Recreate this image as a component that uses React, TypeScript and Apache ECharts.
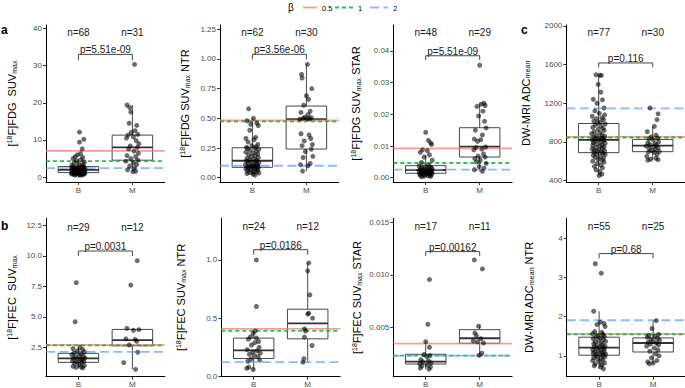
import React, { useEffect, useRef } from 'react';
import * as echarts from 'echarts';

// [jitter offset, value] for each lesion; box = [low whisker, Q1, median, Q3, high whisker]
type Pt = [number, number];
type Box = [number, number, number, number, number];

const groups = ['B', 'M'];
const betaLevels = ['0.5', '1', '2'];

// ---- [18F]FDG SUVmax ----
const fdgSuvB: Pt[] = [
  [0.02, 12.1], [0.1, 10.2], [0.02, 9.4], [0.07, 7.6], [0.04, 6.3], [-0.02, 6.0], [-0.06, 5.5], [0.08, 5.3], [-0.1, 5.0],
  [0.05, 4.7], [-0.04, 4.4], [0.11, 4.1], [-0.08, 3.8], [0.01, 3.6], [0.09, 3.4], [-0.12, 3.2], [0.06, 3.0],
  [-0.03, 2.82], [0.1, 2.74], [-0.09, 2.7], [0.04, 2.61], [-0.13, 2.57], [0.07, 2.49], [-0.01, 2.44], [0.12, 2.38],
  [-0.06, 2.33], [0.03, 2.27], [-0.11, 2.22], [0.08, 2.18], [-0.04, 2.13], [0.0, 2.09], [0.11, 2.04], [-0.08, 2.0], [0.05, 1.97],
  [-0.02, 1.95], [0.09, 1.9], [-0.12, 1.86], [0.03, 1.81], [-0.06, 1.77], [0.12, 1.71], [-0.03, 1.66], [0.06, 1.62],
  [-0.1, 1.57], [0.01, 1.52], [0.1, 1.48], [-0.07, 1.43], [0.04, 1.38], [-0.12, 1.33], [0.07, 1.29], [-0.01, 1.26], [0.11, 1.24],
  [-0.05, 1.22], [0.02, 1.18], [-0.11, 1.14], [0.08, 1.1], [-0.02, 1.05], [0.12, 1.01], [-0.08, 0.97], [0.04, 0.92],
  [-0.13, 0.88], [0.06, 0.84], [-0.04, 0.8], [0.1, 0.75], [-0.09, 0.7], [0.01, 0.66], [0.07, 0.6], [-0.06, 0.55], [0.03, 0.5],
];
const fdgSuvM: Pt[] = [
  [0.04, 30.3], [-0.1, 19.4], [-0.05, 18.7], [-0.03, 17.5], [-0.06, 14.5], [0.08, 13.9], [0.05, 12.5], [-0.02, 12.0],
  [0.1, 11.5], [-0.08, 11.3], [0.02, 10.8], [-0.11, 10.5], [0.07, 9.8], [0.12, 9.0], [-0.04, 8.4], [0.09, 8.0],
  [-0.07, 7.6], [0.03, 7.0], [0.11, 6.4], [-0.1, 5.8], [0.06, 5.5], [-0.03, 5.0], [0.1, 4.6], [-0.12, 4.3],
  [0.02, 3.9], [0.08, 3.4], [-0.05, 3.0], [0.04, 2.5], [-0.09, 2.0], [0.06, 1.6], [0.01, 1.5],
];
const fdgSuvBoxB: Box = [0.5, 1.23, 1.96, 2.84, 5.0];
const fdgSuvBoxM: Box = [1.5, 4.56, 8.0, 11.3, 19.4];
const fdgSuvBeta = [7.05, 4.29, 2.41];
const fdgSuvTicks = ['0', '10', '20', '30', '40'];

// ---- [18F]FDG SUVmax NTR ----
const fdgNtrB: Pt[] = [
  [-0.07, 0.58], [0.02, 0.5], [-0.1, 0.48], [0.08, 0.46], [-0.03, 0.45], [0.11, 0.44], [-0.05, 0.4], [0.06, 0.34],
  [-0.12, 0.33], [0.03, 0.32], [-0.08, 0.3], [0.1, 0.28], [-0.01, 0.27], [0.07, 0.26], [-0.11, 0.255],
  [0.04, 0.25], [-0.09, 0.246], [0.12, 0.238], [-0.04, 0.231], [0.07, 0.222], [-0.12, 0.215], [0.01, 0.207], [0.1, 0.2],
  [-0.07, 0.193], [0.05, 0.186], [-0.02, 0.178], [0.11, 0.17], [-0.1, 0.163], [0.03, 0.157], [-0.05, 0.15], [0.08, 0.145],
  [-0.11, 0.141], [0.06, 0.137], [-0.03, 0.131], [0.12, 0.126], [-0.08, 0.12], [0.02, 0.116], [0.09, 0.112], [-0.13, 0.108],
  [0.05, 0.104], [-0.01, 0.1], [0.1, 0.097], [-0.06, 0.095], [0.03, 0.093], [-0.1, 0.091], [0.07, 0.089], [-0.02, 0.088],
  [0.11, 0.085], [-0.07, 0.082], [0.04, 0.078], [-0.12, 0.074], [0.08, 0.07], [-0.03, 0.066], [0.1, 0.061], [-0.09, 0.057],
  [0.02, 0.052], [0.06, 0.048], [-0.05, 0.044], [0.12, 0.04], [-0.1, 0.035], [0.01, 0.03], [0.05, 0.022],
];
const fdgNtrM: Pt[] = [
  [0.02, 0.955], [-0.09, 0.87], [-0.08, 0.84], [0.1, 0.75], [0.0, 0.69], [0.04, 0.66], [-0.05, 0.61], [0.07, 0.56],
  [-0.1, 0.55], [0.03, 0.53], [-0.03, 0.51], [0.09, 0.505], [-0.06, 0.5], [0.01, 0.498], [0.06, 0.495], [-0.12, 0.493],
  [-0.1, 0.37], [0.05, 0.36], [0.08, 0.33], [-0.04, 0.31], [0.11, 0.28], [-0.08, 0.27], [0.09, 0.24], [-0.02, 0.22],
  [0.12, 0.18], [-0.06, 0.17], [0.07, 0.12], [-0.11, 0.11], [0.03, 0.1], [-0.07, 0.056],
];
const fdgNtrBoxB: Box = [0.022, 0.0875, 0.143, 0.2525, 0.5];
const fdgNtrBoxM: Box = [0.056, 0.2415, 0.494, 0.6035, 0.955];
const fdgNtrBeta = [0.482, 0.475, 0.101];
const fdgNtrTicks = ['0.00', '0.25', '0.50', '0.75', '1.00', '1.25'];

// ---- [18F]FDG SUVmax STAR ----
const fdgStarB: Pt[] = [
  [0.0, 0.0143], [0.05, 0.0118], [0.09, 0.011], [0.11, 0.0105], [-0.06, 0.0088], [0.03, 0.0085], [-0.1, 0.008], [0.07, 0.0072],
  [-0.03, 0.0065], [0.12, 0.0055], [-0.08, 0.0048], [0.04, 0.0041],
  [-0.12, 0.0037], [0.08, 0.0035], [-0.02, 0.0034], [0.1, 0.0032], [-0.07, 0.0031], [0.03, 0.0029], [0.12, 0.0028], [-0.1, 0.0027],
  [0.05, 0.0026], [-0.04, 0.0025], [0.09, 0.00248], [-0.11, 0.00244],
  [0.01, 0.0024], [-0.06, 0.0022], [0.11, 0.0021], [-0.09, 0.002], [0.06, 0.0019], [-0.01, 0.0018], [0.1, 0.00175], [-0.12, 0.0017],
  [0.04, 0.0016], [-0.05, 0.0015], [0.08, 0.00145], [-0.03, 0.0014],
  [0.12, 0.00135], [-0.08, 0.0013], [0.02, 0.0012], [-0.11, 0.0011], [0.07, 0.001], [-0.04, 0.0009], [0.1, 0.0008], [-0.1, 0.0007],
  [0.05, 0.0006], [-0.02, 0.0005], [0.09, 0.0004], [-0.07, 0.0003],
];
const fdgStarM: Pt[] = [
  [0.0, 0.0355], [0.08, 0.0235], [0.03, 0.0232], [0.1, 0.0228], [-0.05, 0.0225], [0.06, 0.021], [-0.02, 0.0195], [0.09, 0.0178],
  [0.12, 0.0157], [-0.08, 0.015], [0.05, 0.0135], [-0.1, 0.0122], [0.02, 0.012], [-0.04, 0.0115], [0.11, 0.0097], [-0.07, 0.0095],
  [0.04, 0.009], [-0.11, 0.0088], [0.07, 0.0075], [-0.03, 0.0068], [0.1, 0.0065], [-0.09, 0.006], [0.01, 0.0055], [-0.06, 0.005],
  [0.12, 0.0045], [-0.01, 0.0035], [0.08, 0.003], [-0.1, 0.0025], [0.05, 0.002],
];
const fdgStarBoxB: Box = [0.0003, 0.00139, 0.00243, 0.00379, 0.0072];
const fdgStarBoxM: Box = [0.002, 0.00653, 0.00978, 0.01577, 0.0235];
const fdgStarBeta = [0.00927, 0.00464, 0.00252];
const fdgStarTicks = ['0.00', '0.01', '0.02', '0.03', '0.04'];

// ---- DW-MRI ADCmean ----
const adcB: Pt[] = [
  [-0.05, 1495], [0.02, 1490], [0.05, 1488], [-0.01, 1395], [0.04, 1315], [-0.1, 1240], [0.07, 1235], [-0.03, 1200],
  [0.1, 1150], [-0.07, 1120], [0.01, 1095], [0.11, 1080], [-0.12, 1065], [0.06, 1050], [-0.04, 1040], [0.09, 1030],
  [-0.09, 1015], [0.03, 1005], [-0.02, 995],
  [0.12, 985], [-0.06, 975], [0.04, 962], [-0.11, 950], [0.08, 940], [-0.01, 930], [0.1, 918], [-0.08, 905], [0.02, 895],
  [-0.13, 885], [0.06, 872], [-0.04, 865], [0.11, 858], [-0.09, 850], [0.03, 843], [0.07, 836], [-0.05, 830], [0.1, 826], [-0.12, 823],
  [0.0, 821],
  [0.09, 815], [-0.07, 808], [0.04, 800], [-0.1, 792], [0.12, 785], [-0.03, 778], [0.06, 770], [-0.11, 762], [0.02, 755],
  [0.1, 748], [-0.05, 740], [0.07, 733], [-0.12, 725], [0.01, 718], [-0.08, 712], [0.11, 705], [-0.02, 700], [0.05, 695], [-0.09, 690],
  [0.08, 682], [-0.04, 675], [0.12, 668], [-0.1, 660], [0.03, 650], [-0.06, 640], [0.09, 630], [-0.01, 620], [0.06, 610],
  [-0.11, 600], [0.1, 590], [-0.03, 575], [0.04, 560], [-0.08, 545], [0.07, 530], [-0.05, 510], [0.02, 490], [0.06, 465], [0.01, 451],
];
const adcM: Pt[] = [
  [-0.05, 1150], [0.1, 1090], [0.08, 1030], [0.03, 960], [-0.1, 905], [0.06, 870], [-0.03, 850], [0.09, 840], [-0.07, 830],
  [0.01, 820], [0.11, 800], [-0.09, 790], [0.04, 780], [-0.05, 770], [0.07, 765], [-0.12, 755], [0.02, 750], [0.1, 740],
  [-0.06, 730], [0.05, 720], [-0.02, 710], [0.12, 700], [-0.08, 695], [0.03, 690], [0.08, 670], [-0.11, 650], [0.06, 630],
  [-0.04, 620], [0.1, 615], [-0.09, 610],
];
const adcBoxB: Box = [451, 688, 821, 990, 1490];
const adcBoxM: Box = [610, 698, 760, 825, 960];
const adcBeta = [852, 845, 1147];
const adcTicks = ['400', '800', '1200', '1600', '2000'];

// ---- [18F]FEC SUVmax ----
const fecSuvB: Pt[] = [
  [-0.04, 7.8], [-0.06, 4.6], [0.03, 2.5], [-0.1, 2.4], [0.08, 2.32], [-0.02, 2.22], [0.11, 2.12], [-0.08, 2.03], [0.05, 1.96],
  [-0.12, 1.9], [0.01, 1.82], [0.09, 1.76], [-0.05, 1.7], [0.12, 1.63], [-0.09, 1.6], [0.04, 1.55], [-0.01, 1.5], [0.07, 1.45],
  [-0.11, 1.4], [0.1, 1.35], [-0.03, 1.3], [0.06, 1.26], [-0.07, 1.2], [0.02, 1.1], [0.11, 1.02], [-0.1, 0.95], [0.05, 0.9],
  [-0.04, 0.86], [0.08, 0.82],
];
const fecSuvM: Pt[] = [
  [0.09, 9.6], [-0.03, 7.6], [-0.1, 4.05], [0.12, 3.95], [0.02, 3.9], [-0.12, 3.2], [0.05, 3.15], [0.08, 3.0], [-0.06, 2.7],
  [0.1, 2.1], [-0.16, 1.25], [0.06, 0.7],
];
const fecSuvBoxB: Box = [0.82, 1.275, 1.6, 2.01, 2.5];
const fecSuvBoxM: Box = [0.7, 2.63, 3.1, 3.97, 4.05];
const fecSuvBeta = [2.71, 2.66, 2.14];
const fecSuvTicks = ['2.5', '5.0', '7.5', '10.0', '12.5'];

// ---- [18F]FEC SUVmax NTR ----
const fecNtrB: Pt[] = [
  [0.05, 1.0], [0.05, 0.6], [0.03, 0.39], [-0.01, 0.37], [-0.06, 0.34], [0.05, 0.33], [-0.1, 0.32], [0.09, 0.3],
  [0.02, 0.29], [-0.04, 0.27], [0.1, 0.25], [-0.12, 0.23], [0.06, 0.22], [-0.02, 0.21], [0.12, 0.2], [-0.08, 0.19],
  [0.01, 0.18], [0.08, 0.17], [-0.05, 0.15], [0.11, 0.14], [-0.11, 0.13], [-0.09, 0.08], [-0.13, 0.07], [-0.01, 0.06],
];
const fecNtrM: Pt[] = [
  [0.02, 0.974], [0.0, 0.906], [0.04, 0.7], [0.02, 0.543], [0.0, 0.535], [0.09, 0.5], [-0.06, 0.409], [-0.04, 0.39],
  [-0.06, 0.338], [0.08, 0.266], [-0.07, 0.152], [-0.09, 0.123],
];
const fecNtrBoxB: Box = [0.06, 0.154, 0.223, 0.329, 0.39];
const fecNtrBoxM: Box = [0.123, 0.323, 0.455, 0.577, 0.974];
const fecNtrBeta = [0.409, 0.391, 0.123];
const fecNtrTicks = ['0.0', '0.5', '1.0'];

// ---- [18F]FEC SUVmax STAR ----
const fecStarB: Pt[] = [
  [0.07, 0.00955], [0.04, 0.00529], [0.0, 0.00362], [0.07, 0.00309], [-0.03, 0.0024], [0.08, 0.0023], [0.02, 0.0022],
  [-0.09, 0.0019], [0.05, 0.0018], [-0.05, 0.0017], [0.1, 0.0016], [-0.11, 0.0015], [0.03, 0.0014], [-0.07, 0.0013],
  [0.09, 0.0012], [-0.1, 0.0011], [0.06, 0.001],
];
const fecStarM: Pt[] = [
  [-0.1, 0.01143], [0.05, 0.01057], [-0.02, 0.0051], [-0.09, 0.00446], [-0.06, 0.0042], [0.02, 0.0039], [-0.12, 0.0037],
  [-0.04, 0.0036], [0.07, 0.0035], [0.04, 0.00252], [-0.01, 0.00233],
];
const fecStarBoxB: Box = [0.001, 0.00149, 0.00171, 0.00242, 0.00362];
const fecStarBoxM: Box = [0.00233, 0.00347, 0.00395, 0.00477, 0.0051];
const fecStarBeta = [0.00343, 0.0023, 0.00229];
const fecStarTicks = ['0.005', '0.010', '0.015'];

// ---- DW-MRI ADCmean NTR ----
const adcNtrB: Pt[] = [
  [-0.07, 3.35], [0.04, 3.11], [-0.1, 2.14], [0.02, 1.86], [0.09, 1.83], [-0.04, 1.8], [0.11, 1.75], [-0.08, 1.62],
  [0.05, 1.6], [-0.12, 1.57], [0.07, 1.55], [-0.02, 1.52], [0.1, 1.5], [-0.06, 1.48],
  [0.03, 1.46], [-0.11, 1.44], [0.08, 1.42], [-0.01, 1.4], [0.12, 1.37], [-0.07, 1.35], [0.04, 1.33], [-0.1, 1.31],
  [0.06, 1.29], [-0.03, 1.27], [0.11, 1.25], [-0.09, 1.23], [0.01, 1.22],
  [0.07, 1.21],
  [-0.05, 1.2], [0.1, 1.18], [-0.12, 1.16], [0.03, 1.14], [-0.02, 1.13], [0.09, 1.11], [-0.08, 1.1], [0.05, 1.08],
  [-0.11, 1.07], [0.12, 1.05], [-0.04, 1.04], [0.02, 1.03], [0.08, 1.02],
  [-0.06, 1.0], [0.11, 0.98], [-0.1, 0.96], [0.04, 0.94], [-0.03, 0.92], [0.07, 0.9], [-0.12, 0.88], [0.01, 0.85],
  [0.1, 0.82], [-0.07, 0.8], [0.05, 0.77], [-0.09, 0.75], [0.03, 0.72], [0.08, 0.67],
];
const adcNtrM: Pt[] = [
  [0.06, 1.9], [-0.02, 1.7], [0.1, 1.55], [-0.08, 1.52], [0.03, 1.5], [-0.11, 1.48], [0.08, 1.45], [-0.04, 1.42],
  [0.12, 1.4], [0.0, 1.38], [-0.09, 1.35], [0.06, 1.33], [-0.05, 1.3], [0.1, 1.28], [-0.12, 1.25], [0.02, 1.2],
  [0.09, 1.15], [-0.06, 1.12], [0.05, 1.05], [0.11, 1.0], [-0.03, 0.95], [0.07, 0.88], [-0.1, 0.85], [0.0, 0.82], [-0.07, 0.8],
];
const adcNtrBoxB: Box = [0.67, 1.018, 1.212, 1.477, 2.14];
const adcNtrBoxM: Box = [0.8, 1.1, 1.33, 1.46, 1.9];
const adcNtrBeta = [1.56, 1.55, 1.91];
const adcNtrTicks = ['1', '2', '3', '4'];

const pValues = ['5.51e-09', '3.56e-06', '5.51e-09', '0.116', '0.0031', '0.0186', '0.00162', '0.68'];

// ---- styling ----
const FONT = '"Liberation Sans", Arial, Helvetica, sans-serif';
const X_MIN = 0.4;
const X_MAX = 2.6;
const betaColors = ['rgba(248,118,109,0.72)', 'rgba(0,186,56,0.85)', 'rgba(97,156,255,0.72)'];
const betaDash: (number[] | null)[] = [null, [4, 3], [9, 4.5]];
const INK = '#1a1a1a';
const TICK_TEXT = '#4d4d4d';
const TICK_FONT = 8;

interface Panel {
  grid: { left: number; top: number; width: number; height: number };
  yMin: number; yMax: number; ticks: string[];
  name: string; nameGap: number;
  b: Pt[]; m: Pt[]; boxB: Box; boxM: Box; beta: number[]; p: string;
  nY: number; brY: number; tipY: number;
}

const TOP = 25, TOP_H = 157, BOT = 218.3, BOT_H = 158.4, W = 118.8;

const panels: Panel[] = [
  { grid: { left: 46, top: TOP, width: W, height: TOP_H }, yMin: -1.3, yMax: 40.9, ticks: fdgSuvTicks,
    name: '{t|[}{s|18}{t|F]FDG  SUV}{b|max}', nameGap: 28,
    b: fdgSuvB, m: fdgSuvM, boxB: fdgSuvBoxB, boxM: fdgSuvBoxM, beta: fdgSuvBeta, p: pValues[0], nY: 38.9, brY: 33.0, tipY: 31.4 },
  { grid: { left: 220, top: TOP, width: W, height: TOP_H }, yMin: -0.036, yMax: 1.286, ticks: fdgNtrTicks,
    name: '{t|[}{s|18}{t|F]FDG SUV}{b|max}{t| NTR}', nameGap: 29,
    b: fdgNtrB, m: fdgNtrM, boxB: fdgNtrBoxB, boxM: fdgNtrBoxM, beta: fdgNtrBeta, p: pValues[1], nY: 1.226, brY: 1.039, tipY: 0.997 },
  { grid: { left: 393.3, top: TOP, width: W, height: TOP_H }, yMin: -0.00136, yMax: 0.0482, ticks: fdgStarTicks,
    name: '{t|[}{s|18}{t|F]FDG SUV}{b|max}{t| STAR}', nameGap: 31,
    b: fdgStarB, m: fdgStarM, boxB: fdgStarBoxB, boxM: fdgStarBoxM, beta: fdgStarBeta, p: pValues[2], nY: 0.04596, brY: 0.03849, tipY: 0.03713 },
  { grid: { left: 566.3, top: TOP, width: W, height: TOP_H }, yMin: 384, yMax: 2010, ticks: adcTicks,
    name: '{t|DW-MRI ADC}{b|mean}', nameGap: 35,
    b: adcB, m: adcM, boxB: adcBoxB, boxM: adcBoxM, beta: adcBeta, p: pValues[3], nY: 1929, brY: 1617, tipY: 1572 },
  { grid: { left: 46, top: BOT, width: W, height: BOT_H }, yMin: 0.1, yMax: 13.07, ticks: fecSuvTicks,
    name: '{t|[}{s|18}{t|F]FEC  SUV}{b|max}', nameGap: 28,
    b: fecSuvB, m: fecSuvM, boxB: fecSuvBoxB, boxM: fecSuvBoxM, beta: fecSuvBeta, p: pValues[4], nY: 12.35, brY: 10.39, tipY: 9.98 },
  { grid: { left: 221.3, top: BOT, width: W, height: BOT_H }, yMin: -0.002, yMax: 1.357, ticks: fecNtrTicks,
    name: '{t|[}{s|18}{t|F]FEC SUV}{b|max}{t| NTR}', nameGap: 34,
    b: fecNtrB, m: fecNtrM, boxB: fecNtrBoxB, boxM: fecNtrBoxM, beta: fecNtrBeta, p: pValues[5], nY: 1.285, brY: 1.088, tipY: 1.045 },
  { grid: { left: 393.3, top: BOT, width: W, height: BOT_H }, yMin: 0.00028, yMax: 0.0154, ticks: fecStarTicks,
    name: '{t|[}{s|18}{t|F]FEC SUV}{b|max}{t| STAR}', nameGap: 30,
    b: fecStarB, m: fecStarM, boxB: fecStarBoxB, boxM: fecStarBoxM, beta: fecStarBeta, p: pValues[6], nY: 0.01461, brY: 0.01222, tipY: 0.01181 },
  { grid: { left: 566.7, top: BOT, width: W, height: BOT_H }, yMin: 0.47, yMax: 4.51, ticks: adcNtrTicks,
    name: '{t|DW-MRI ADC}{b|mean}{t| NTR}', nameGap: 32,
    b: adcNtrB, m: adcNtrM, boxB: adcNtrBoxB, boxM: adcNtrBoxM, beta: adcNtrBeta, p: pValues[7], nY: 4.3, brY: 3.61, tipY: 3.49 },
];

const titleRich = {
  t: { fontSize: 11, fontFamily: FONT, color: '#000' },
  s: { fontSize: 7, fontFamily: FONT, color: '#000', padding: [0, 0, 5, 0] },
  b: { fontSize: 7, fontFamily: FONT, color: '#000', padding: [4, 0, 0, 0] },
};

function buildOption() {
  const grid: any[] = [];
  const xAxis: any[] = [];
  const yAxis: any[] = [];
  const series: any[] = [];

  panels.forEach((p, i) => {
    grid.push({ ...p.grid, containLabel: false, outerBoundsMode: 'none' });
    xAxis.push({
      type: 'value', gridIndex: i, min: X_MIN, max: X_MAX,
      axisLine: { show: true, onZero: false, lineStyle: { color: '#000', width: 1 } },
      axisTick: { show: true, customValues: [1, 2], length: 3, lineStyle: { color: '#333', width: 1 } },
      axisLabel: {
        customValues: [1, 2], formatter: (v: number) => groups[Math.round(v) - 1] ?? '',
        fontSize: TICK_FONT, color: TICK_TEXT, fontFamily: FONT, margin: 4,
      },
      splitLine: { show: false },
    });
    const tickVals = p.ticks.map((t) => parseFloat(t));
    yAxis.push({
      type: 'value', gridIndex: i, min: p.yMin, max: p.yMax,
      axisLine: { show: true, onZero: false, lineStyle: { color: '#000', width: 1 } },
      axisTick: { show: true, customValues: tickVals, length: 3, lineStyle: { color: '#333', width: 1 } },
      axisLabel: {
        customValues: tickVals,
        formatter: (v: number) => p.ticks[tickVals.findIndex((t) => Math.abs(t - v) < 1e-9)] ?? '',
        fontSize: TICK_FONT, color: TICK_TEXT, fontFamily: FONT, margin: 4,
      },
      splitLine: { show: false },
      name: p.name, nameLocation: 'middle', nameGap: p.nameGap, nameRotate: 90,
      nameTextStyle: { fontSize: 11, fontFamily: FONT, color: '#000', rich: titleRich },
    });

    // boxes
    series.push({
      type: 'custom', xAxisIndex: i, yAxisIndex: i, z: 2,
      data: [[1, ...p.boxB], [2, ...p.boxM]],
      encode: { x: 0, y: [1, 2, 3, 4, 5] },
      renderItem: (_params: any, api: any) => {
        const x = api.value(0);
        const c = (k: number) => api.coord([x, api.value(k)]);
        const lo = c(1), q1 = c(2), md = c(3), q3 = c(4), hi = c(5);
        const w = api.size([0.75, 0])[0];
        const cx = lo[0];
        const stroke = '#333';
        return {
          type: 'group',
          children: [
            { type: 'line', shape: { x1: cx, y1: hi[1], x2: cx, y2: q3[1] }, style: { stroke, lineWidth: 0.9 } },
            { type: 'line', shape: { x1: cx, y1: q1[1], x2: cx, y2: lo[1] }, style: { stroke, lineWidth: 0.9 } },
            { type: 'rect', shape: { x: cx - w / 2, y: q3[1], width: w, height: q1[1] - q3[1] },
              style: { fill: 'none', stroke, lineWidth: 0.9 } },
            { type: 'line', shape: { x1: cx - w / 2, y1: md[1], x2: cx + w / 2, y2: md[1] }, style: { stroke, lineWidth: 1.8 } },
          ],
        };
      },
    });

    // beta reference lines
    series.push({
      type: 'custom', xAxisIndex: i, yAxisIndex: i, z: 3,
      data: p.beta.map((v, k) => [1.5, v, k]),
      encode: { x: 0, y: 1 },
      renderItem: (_params: any, api: any) => {
        const v = api.value(1);
        const k = api.value(2);
        const a = api.coord([X_MIN, v]);
        const b = api.coord([X_MAX, v]);
        return {
          type: 'line',
          shape: { x1: a[0], y1: a[1], x2: b[0], y2: b[1] },
          style: { stroke: betaColors[k], lineWidth: 1.8, lineDash: betaDash[k] ?? undefined },
        };
      },
    });

    // jittered lesions
    series.push({
      type: 'scatter', xAxisIndex: i, yAxisIndex: i, z: 4,
      symbolSize: 5,
      itemStyle: { color: 'rgba(0,0,0,0.72)' },
      data: [...p.b.map(([dx, v]) => [1 + dx, v]), ...p.m.map(([dx, v]) => [2 + dx, v])],
    });

    // group sizes and significance bracket
    series.push({
      type: 'custom', xAxisIndex: i, yAxisIndex: i, z: 5,
      data: [[1.5, p.brY]],
      encode: { x: 0, y: 1 },
      renderItem: (_params: any, api: any) => {
        const t1 = api.coord([1, p.tipY]);
        const b1 = api.coord([1, p.brY]);
        const b2 = api.coord([2, p.brY]);
        const t2 = api.coord([2, p.tipY]);
        const n1 = api.coord([1, p.nY]);
        const n2 = api.coord([2, p.nY]);
        const txt = (x: number, y: number, text: string) => ({
          type: 'text', x, y,
          style: { text, fill: INK, fontSize: 10, fontFamily: FONT, align: 'center', verticalAlign: 'middle',
            textAlign: 'center', textVerticalAlign: 'middle' },
        });
        return {
          type: 'group',
          children: [
            { type: 'polyline', shape: { points: [t1, b1, b2, t2] }, style: { stroke: '#333', lineWidth: 0.9, fill: 'none' } },
            txt((b1[0] + b2[0]) / 2, b1[1] - 4.5, `p=${p.p}`),
            txt(n1[0], n1[1], `n=${p.b.length}`),
            txt(n2[0], n2[1], `n=${p.m.length}`),
          ],
        };
      },
    });
  });

  const legendY = 7.5;
  const keyX = [303, 335, 370];
  const keyW = [14, 18, 18];
  const labelX = [322, 358, 393];
  const graphic: any[] = [
    { type: 'text', x: 288, y: legendY, style: { text: 'β', fill: '#000', fontSize: 10, fontFamily: FONT, verticalAlign: 'middle', textVerticalAlign: 'middle' } },
    ...betaLevels.flatMap((lab, k) => [
      { type: 'line', shape: { x1: keyX[k], y1: legendY, x2: keyX[k] + keyW[k], y2: legendY },
        style: { stroke: betaColors[k], lineWidth: 1.8, lineDash: betaDash[k] ?? undefined } },
      { type: 'text', x: labelX[k], y: legendY + 0.5,
        style: { text: lab, fill: '#000', fontSize: 7.5, fontFamily: FONT, verticalAlign: 'middle', textVerticalAlign: 'middle' } },
    ]),
    { type: 'text', x: 1, y: 30, style: { text: 'a', fill: '#000', fontSize: 12, fontWeight: 'bold', fontFamily: FONT, verticalAlign: 'middle', textVerticalAlign: 'middle' } },
    { type: 'text', x: 1, y: 226, style: { text: 'b', fill: '#000', fontSize: 12, fontWeight: 'bold', fontFamily: FONT, verticalAlign: 'middle', textVerticalAlign: 'middle' } },
    { type: 'text', x: 521, y: 30, style: { text: 'c', fill: '#000', fontSize: 12, fontWeight: 'bold', fontFamily: FONT, verticalAlign: 'middle', textVerticalAlign: 'middle' } },
  ];

  return {
    animation: false,
    backgroundColor: '#fff',
    textStyle: { fontFamily: FONT },
    grid, xAxis, yAxis, series, graphic,
  };
}

export default function App() {
  const ref = useRef<HTMLDivElement>(null);
  useEffect(() => {
    if (!ref.current) return;
    const chart = echarts.init(ref.current, undefined, { renderer: 'svg' });
    chart.setOption(buildOption() as any);
    return () => chart.dispose();
  }, []);
  return <div ref={ref} style={{ position: 'fixed', left: 0, top: 0, width: 685, height: 388 }} />;
}
